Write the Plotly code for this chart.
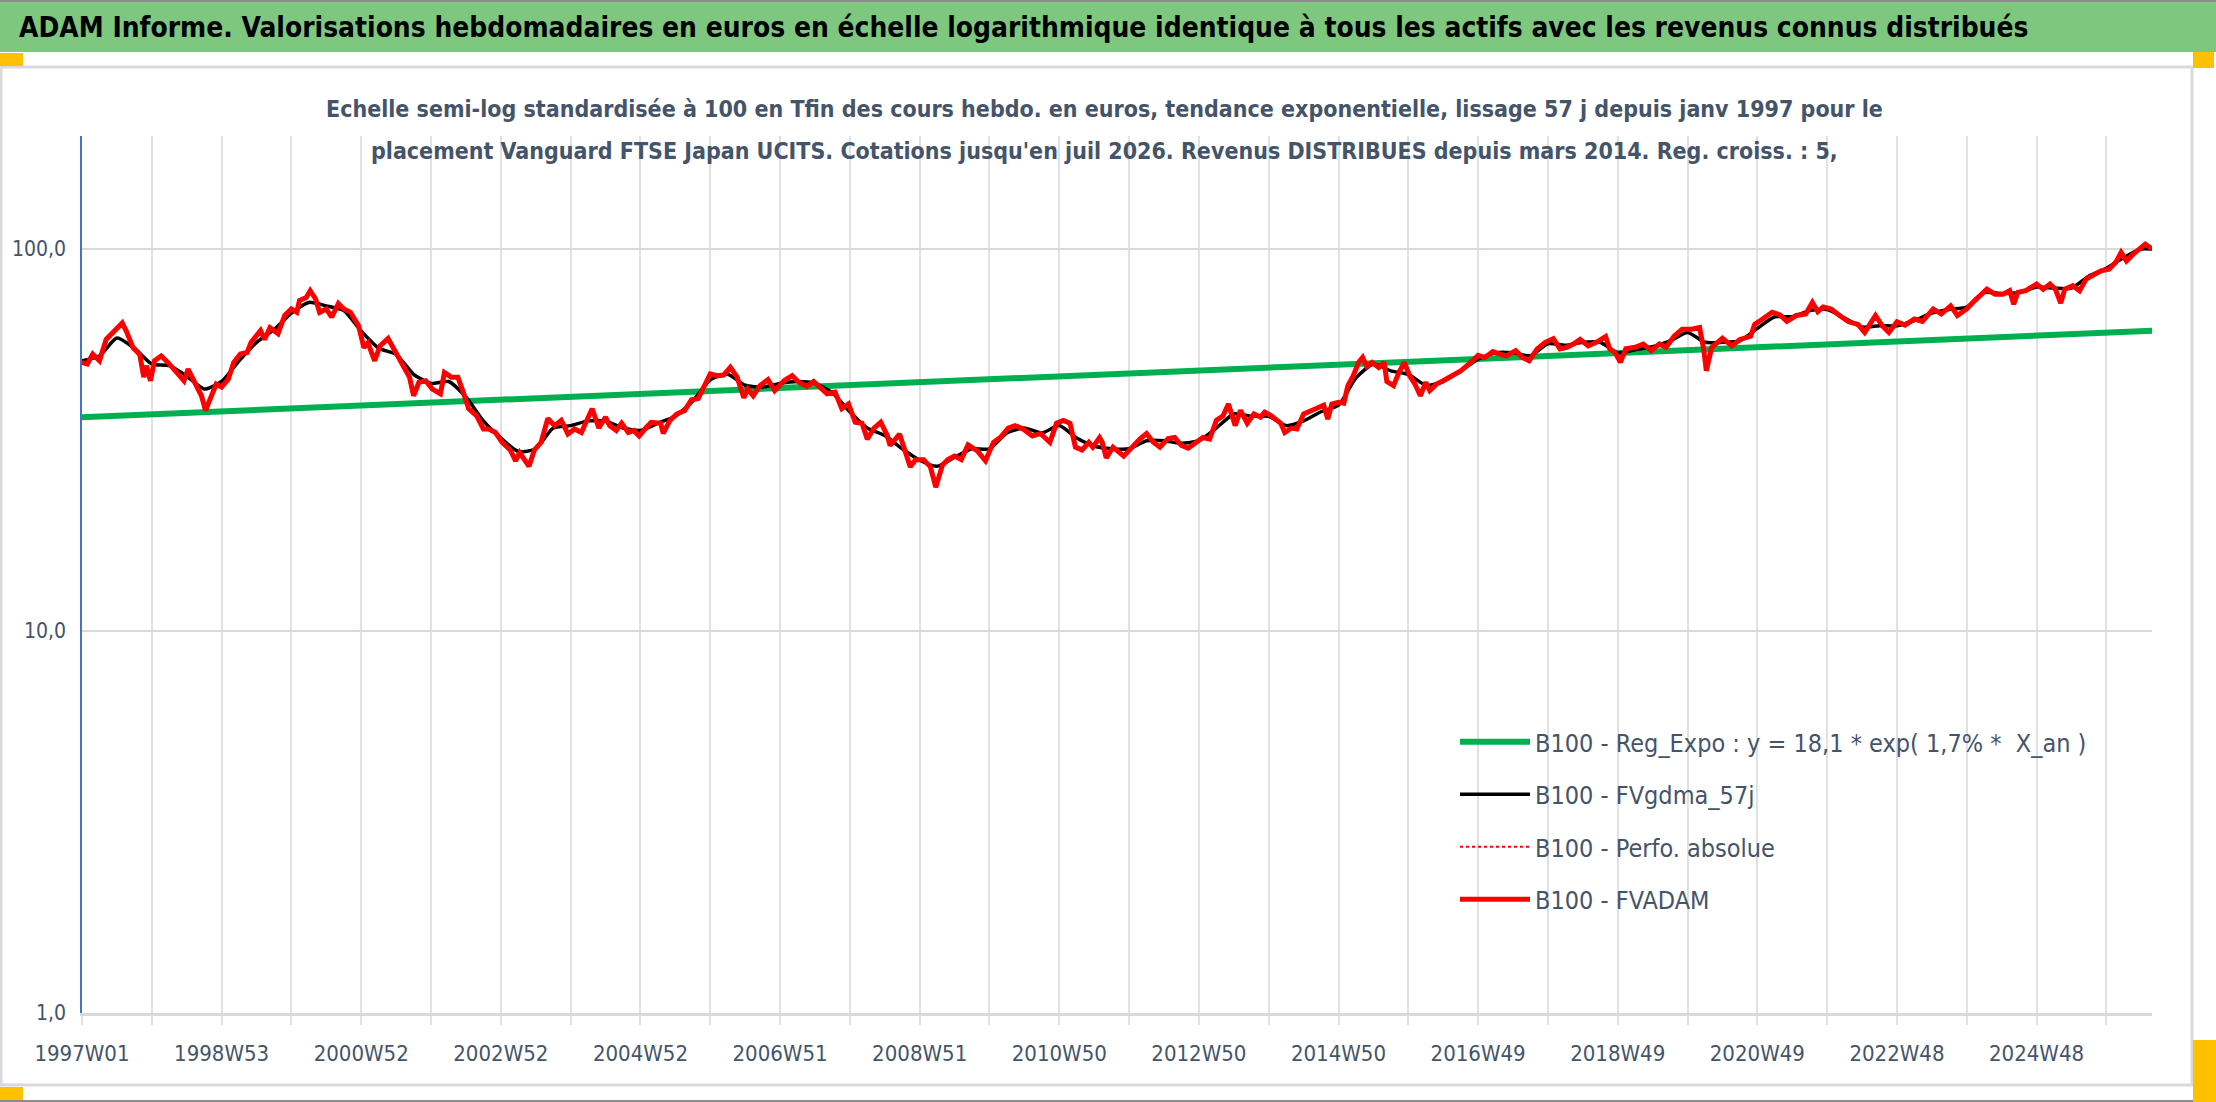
import plotly.graph_objects as go

# ---------------- data ----------------
week_idx = [0, 4, 8, 13, 18, 23, 30, 33, 38, 43, 46, 48, 51, 54, 59, 64, 71, 76, 79, 84, 89, 92, 97, 100, 104,
            109, 113, 118, 123, 126, 133, 136, 140, 146, 151, 156, 160, 162, 167, 170, 174, 177, 182, 186, 191,
            195, 200, 206, 210, 213, 218, 222, 228, 233, 239, 244, 247, 251, 256, 261, 267, 270, 275, 280, 284,
            288, 294, 299, 303, 308, 313, 319, 323, 326, 333, 337, 342, 347, 352, 357, 362, 367, 372, 380, 385,
            390, 393, 398, 402, 407, 411, 415, 420, 424, 431, 433, 438, 443, 449, 454, 459, 464, 468, 473, 478,
            483, 488, 493, 496, 500, 505, 511, 516, 523, 529, 534, 540, 545, 550, 555, 561, 566, 571, 576, 581,
            585, 590, 595, 600, 602, 609, 614, 617, 621, 627, 632, 636, 641, 645, 650, 655, 660, 667, 673, 679,
            684, 690, 695, 701, 708, 714, 721, 726, 731, 736, 740, 745, 750, 753, 758, 760, 763, 768, 776, 782,
            788, 793, 798, 803, 809, 814, 819, 824, 830, 835, 840, 845, 850, 854, 859, 863, 868, 873, 878, 881,
            886, 893, 896, 901, 905, 910, 916, 921, 925, 928, 931, 936, 940, 943, 947, 951, 954, 957, 961, 966,
            970, 972, 977, 981, 985, 989, 993, 997, 1001, 1004, 1009, 1014, 1020, 1027, 1033, 1040, 1045, 1051,
            1056, 1061, 1068, 1073, 1078, 1084, 1090, 1096, 1101, 1106, 1111, 1116, 1122, 1128, 1135, 1138, 1142,
            1146, 1150, 1157, 1163, 1169, 1175, 1180, 1186, 1192, 1199, 1205, 1208, 1210, 1214, 1222, 1229, 1235,
            1243, 1246, 1252, 1259, 1265, 1270, 1277, 1284, 1289, 1293, 1297, 1303, 1310, 1316, 1323, 1328, 1336,
            1341, 1346, 1352, 1358, 1365, 1371, 1379, 1385, 1392, 1397, 1404, 1410, 1419, 1425, 1431, 1436, 1439,
            1442, 1448, 1456, 1461, 1466, 1470, 1474, 1477, 1483, 1488, 1493, 1499, 1504, 1510, 1515, 1519, 1523,
            1528, 1532, 1537, 1542]

fvadam = [50.5, 50, 53.1, 51, 58, 60.5, 64, 61, 55.2, 53, 46.2, 49.5, 45.2, 51, 52.5, 50.5, 47.5, 45.2, 48.5, 44.8,
          41.3, 37.8, 42.2, 44.3, 43.5, 45.7, 50.5, 53.1, 53.6, 57, 61.2, 58, 62.3, 60, 67, 69.7, 68.3, 73.3, 74.7,
          77.8, 74, 68.3, 69.7, 66.3, 72, 69.7, 68.3, 63, 55.2, 56.8, 51, 55.8, 58.3, 54.2, 49, 46.2, 41.3, 44.8,
          45.2, 43, 41.8, 47.5, 46.2, 46.2, 42.2, 38.2, 36.6, 33.8, 33.8, 33.1, 31.2, 29.8, 27.9, 29.3, 27, 29.8,
          31.2, 36, 34.5, 35.6, 32.8, 33.8, 33.1, 38.2, 34, 36.3, 34.5, 33.5, 35, 33.1, 33.5, 32.4, 34, 35.2, 35,
          32.9, 35.6, 37, 37.8, 40.3, 40.6, 44.3, 47.1, 46.6, 46.8, 49, 46.2, 40.8, 43, 41.3, 43.9, 45.5, 42.6,
          45.2, 46.6, 44.8, 43.7, 45, 43.5, 41.8, 42.2, 38.2, 39.3, 35.2, 35, 31.8, 34, 35.2, 32.4, 30.6, 32.8,
          28.7, 26.9, 28.1, 28.1, 26.9, 23.8, 27.2, 28.1, 28.7, 28.1, 30.7, 29.6, 27.9, 31.2, 32.1, 34, 34.5, 33.8,
          32.4, 32.9, 31.2, 35, 35.6, 35, 30.3, 29.8, 31.2, 30.3, 32.1, 31.2, 28.4, 30.3, 28.7, 30.3, 31.8, 32.9,
          31.2, 30.3, 31.9, 32.1, 30.6, 30.1, 31.2, 32.1, 31.8, 35.6, 36.6, 39.3, 34.5, 37.8, 35, 37, 36.3, 37.4,
          36.6, 35, 33.1, 34, 33.8, 37, 37.8, 38.6, 39, 35.9, 39.3, 39.7, 39.5, 43.9, 46.6, 50.5, 52, 49.3, 50.5,
          49, 50.5, 45, 43.9, 47.5, 50.5, 46.6, 44.3, 41.3, 44.8, 42.6, 44.3, 45.2, 46.6, 48, 50, 52.7, 52, 53.9,
          53.1, 52.5, 54.2, 52, 51, 54.8, 57, 58.3, 54.8, 55.3, 56.4, 58, 55.8, 57, 59, 54.8, 53.6, 50.5, 54.8,
          55.3, 56.4, 54.2, 56.4, 55.3, 59.1, 61.7, 61.7, 62.3, 54.8, 48, 55.3, 58.4, 55.8, 58, 59.1, 63.5, 65.6,
          68.3, 67.2, 64.7, 67, 67.6, 72.5, 68.6, 70.5, 69.7, 66.7, 64.5, 63.5, 60.5, 67, 63, 60.5, 64.5, 63.2,
          65.6, 64.7, 69.7, 67.6, 71, 67, 69.7, 73.3, 78.5, 76.2, 76.2, 77.8, 71.7, 77, 77.8, 81, 78.5, 81, 78.5,
          72.2, 78.5, 80.2, 77.8, 83.5, 86, 87.7, 88.6, 92.3, 98, 93.1, 97, 100, 103, 100]

gdma_weeks = [0, 13, 26, 39, 52, 65, 78, 91, 104, 117, 130, 143, 156, 169, 182, 195, 208, 221, 234, 247, 260, 273,
              286, 299, 312, 325, 338, 351, 364, 377, 390, 403, 416, 429, 442, 455, 468, 481, 494, 507, 520, 533,
              546, 559, 572, 585, 598, 611, 624, 637, 650, 663, 676, 689, 702, 715, 728, 741, 754, 767, 780, 793,
              806, 819, 832, 845, 858, 871, 884, 897, 910, 923, 936, 949, 962, 975, 988, 1001, 1014, 1027, 1040,
              1053, 1066, 1079, 1092, 1105, 1118, 1131, 1144, 1157, 1170, 1183, 1196, 1209, 1222, 1235, 1248, 1261,
              1274, 1287, 1300, 1313, 1326, 1339, 1352, 1365, 1378, 1391, 1404, 1417, 1430, 1443, 1456, 1469, 1482,
              1495, 1508, 1521, 1534, 1542]
gdma = [51, 52.5, 58.5, 55, 50, 49.5, 46.5, 43, 45, 51, 57, 61.5, 68, 72.5, 71, 69, 61, 55, 53, 47, 44.5, 45, 41,
        35.5, 32, 29.5, 30, 34, 34.5, 35.5, 35.5, 34, 33.5, 35, 36.5, 40, 45.5, 47, 44, 43.5, 44.5, 45, 44.5, 42,
        37.5, 34, 32.5, 30, 28, 27, 28.5, 30, 30, 33, 34, 33, 34.5, 32, 30.5, 30, 30, 31.5, 31.5, 31, 31.5, 34, 37,
        36.5, 36.5, 34.5, 35.5, 37.5, 39, 46, 50, 48, 47, 44, 45, 48, 51.5, 53.5, 53.5, 52.5, 56.5, 56, 57, 57,
        53.5, 54.5, 55.5, 57.5, 60.5, 57, 57, 57.5, 62, 66.5, 66.5, 69, 69.5, 66, 62.5, 63, 63, 65, 68, 69.5, 70.5,
        77, 76.5, 77, 79.5, 79, 79, 85, 89, 95, 100, 100]

reg_weeks = [0, 1542]
reg_vals = [36.3, 61.1]

x_tick_labels = ["1997W01", "1998W53", "2000W52", "2002W52", "2004W52", "2006W51", "2008W51", "2010W50",
                 "2012W50", "2014W50", "2016W49", "2018W49", "2020W49", "2022W48", "2024W48"]
y_tick_vals = [1, 10, 100]
y_tick_labels = ["1,0", "10,0", "100,0"]

series_names = ["B100 - Reg_Expo : y = 18,1 * exp( 1,7% *  X_an )", "B100 - FVgdma_57j",
                "B100 - Perfo. absolue", "B100 - FVADAM"]

title_text = ("ADAM Informe. Valorisations hebdomadaires en euros en échelle logarithmique identique "
              "à tous les actifs avec les revenus connus distribués")
subtitle_1 = ("Echelle semi-log standardisée à 100 en Tfin des cours hebdo. en euros, tendance exponentielle, "
              "lissage 57 j depuis janv 1997 pour le")
subtitle_2 = ("placement Vanguard FTSE Japan UCITS. Cotations jusqu'en juil 2026. Revenus DISTRIBUES depuis "
              "mars 2014. Reg. croiss. : 5,")

# ---------------- layout constants ----------------
W, H = 2216, 1102
L, R, T, B = 82, 2152, 136, 1013
FONT = "Liberation Sans Narrow, DejaVu Sans Condensed, Arial Narrow, sans-serif"
TXT = "#44546A"
GRID = "#DEE2E8"


def fx(px):
    return (px - L) / (R - L)


def fy(py):
    return (B - py) / (B - T)


fig = go.Figure()
fig.add_trace(go.Scatter(x=reg_weeks, y=reg_vals, mode="lines", name=series_names[0], legendgroup="a",
                         line=dict(color="#00B050", width=6)))
fig.add_trace(go.Scatter(x=gdma_weeks, y=gdma, mode="lines", name=series_names[1], legendgroup="b",
                         line=dict(color="#000000", width=3.5, shape="spline", smoothing=0.6)))
fig.add_trace(go.Scatter(x=week_idx, y=fvadam, mode="lines", name=series_names[2], legendgroup="c",
                         line=dict(color="#FF0000", width=2, dash="dot")))
fig.add_trace(go.Scatter(x=week_idx, y=fvadam, mode="lines", name=series_names[3], legendgroup="d",
                         line=dict(color="#FF0000", width=5)))

tick_vals = [52 * k for k in range(30)]
tick_text = [x_tick_labels[k // 2] if k % 2 == 0 else "" for k in range(30)]

fig.update_xaxes(range=[0, week_idx[-1]], tickmode="array", tickvals=tick_vals, ticktext=tick_text,
                 showgrid=True, gridcolor=GRID, gridwidth=2, zeroline=False,
                 showline=True, linecolor="#D9D9D9", linewidth=3,
                 ticks="outside", ticklen=9, tickwidth=2, tickcolor=GRID,
                 tickfont=dict(family=FONT, size=22, color=TXT), ticklabelstandoff=10)
fig.update_yaxes(type="log", range=[0, 2.296], tickmode="array", tickvals=y_tick_vals, ticktext=y_tick_labels,
                 showgrid=True, gridcolor="#D9D9D9", gridwidth=2, zeroline=False,
                 showline=True, linecolor="#4472C4", linewidth=1.5, ticks="",
                 tickfont=dict(family=FONT, size=21, color=TXT), ticklabelstandoff=10)

shapes = [
    dict(type="rect", xref="paper", yref="paper", x0=fx(0), x1=fx(W), y0=fy(0), y1=fy(52),
         fillcolor="#7DC87E", line=dict(width=0), layer="below"),
    dict(type="line", xref="paper", yref="paper", x0=fx(0), x1=fx(W), y0=fy(1), y1=fy(1),
         line=dict(color="#8C8C8C", width=2)),
    dict(type="rect", xref="paper", yref="paper", x0=fx(1), x1=fx(2192), y0=fy(67), y1=fy(1085),
         fillcolor="rgba(0,0,0,0)", line=dict(color="#D9D9D9", width=3), layer="below"),
    dict(type="line", xref="paper", yref="paper", x0=fx(0), x1=fx(W), y0=fy(1101), y1=fy(1101),
         line=dict(color="#8C8C8C", width=2)),
]
for (x0, y0, x1, y1) in [(0, 53, 23, 66), (2193, 52, 2214, 68), (0, 1087, 23, 1100), (2193, 1040, 2216, 1102)]:
    shapes.append(dict(type="rect", xref="paper", yref="paper", x0=fx(x0), x1=fx(x1), y0=fy(y0), y1=fy(y1),
                       fillcolor="#FFC000", line=dict(width=0)))

annotations = [
    dict(text="<b>" + title_text + "</b>", xref="paper", yref="paper", x=fx(17), y=fy(27),
         xanchor="left", yanchor="middle", showarrow=False, font=dict(family=FONT, size=27.9, color="#000000")),
    dict(text="<b>" + subtitle_1 + "</b>", xref="paper", yref="paper", x=fx(1104), y=fy(109),
         xanchor="center", yanchor="middle", showarrow=False, font=dict(family=FONT, size=23, color=TXT)),
    dict(text="<b>" + subtitle_2 + "</b>", xref="paper", yref="paper", x=fx(1104), y=fy(151),
         xanchor="center", yanchor="middle", showarrow=False, font=dict(family=FONT, size=23, color=TXT)),
]

fig.update_layout(
    width=W, height=H, autosize=False,
    margin=dict(l=L, r=W - R, t=T, b=H - B, pad=0),
    paper_bgcolor="#FFFFFF", plot_bgcolor="#FFFFFF",
    shapes=shapes, annotations=annotations,
    showlegend=True,
    legend=dict(x=fx(1455), y=fy(719), xanchor="left", yanchor="top", bgcolor="rgba(0,0,0,0)",
                font=dict(family=FONT, size=25, color=TXT), traceorder="grouped", tracegroupgap=17,
                itemwidth=70),
)

fig.write_html("out.html", config={"displayModeBar": False},
               post_script="document.body.style.margin='0';document.body.style.overflow='hidden';")
